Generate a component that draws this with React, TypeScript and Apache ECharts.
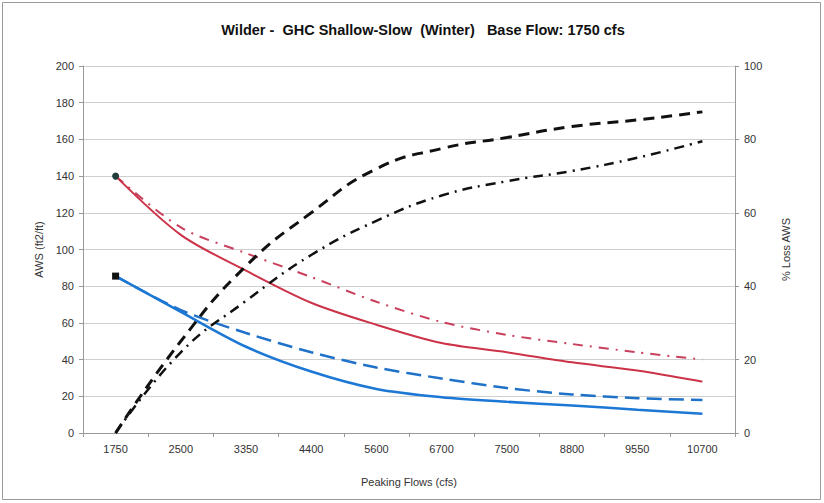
import React, { useEffect, useRef } from "react";
import * as echarts from "echarts";

const categories = ["1750", "2500", "3350", "4400", "5600", "6700", "7500", "8800", "9550", "10700"];
const redSolid = [140, 108, 88.5, 71, 59, 49, 44, 38.5, 34, 28];
const redDashDot = [140, 112, 98, 85, 71.5, 60.5, 53.5, 48.5, 44, 40];
const blueSolid = [85.5, 66, 47, 33.5, 24, 19.5, 17, 15, 12.7, 10.5];
const blueDashed = [85.5, 67, 54.5, 44, 35.7, 29.7, 24.5, 21, 19, 18];
const blackDashedPct = [0, 25, 45.5, 60, 72, 77.5, 80.5, 83.5, 85.3, 87.5];
const blackDashDotPct = [0, 22, 36, 48.5, 57.8, 64.7, 68.6, 71.4, 75, 79.5];

const FONT = "'Liberation Sans Narrow', 'Arial Narrow', 'Liberation Sans', Arial, sans-serif";

export default function App() {
  const ref = useRef<HTMLDivElement>(null);
  useEffect(() => {
    if (!ref.current) return;
    const chart = echarts.init(ref.current, null, { renderer: "svg" });
    const withFirstMarker = (arr: number[], symbol: string, color: string) =>
      arr.map((v, i) =>
        i === 0
          ? { value: v, symbol, symbolSize: 7, itemStyle: { color } }
          : { value: v, symbol: "none" }
      );
    chart.setOption({
      animation: false,
      backgroundColor: "#ffffff",
      title: {
        text: "Wilder -  GHC Shallow-Slow  (Winter)   Base Flow: 1750 cfs",
        left: 418,
        textAlign: "center",
        top: 17,
        textStyle: { fontFamily: FONT, fontSize: 14.5, fontWeight: "bold", color: "#111" },
      },
      grid: { left: 83, right: 89, top: 66, bottom: 70, containLabel: false },
      xAxis: {
        type: "category",
        data: categories,
        boundaryGap: true,
        name: "Peaking Flows (cfs)",
        nameLocation: "middle",
        nameGap: 43,
        nameTextStyle: { fontFamily: FONT, fontSize: 11, color: "#333" },
        axisLine: { lineStyle: { color: "#999" } },
        axisTick: { show: true, length: 4, lineStyle: { color: "#999" } },
        axisLabel: { fontFamily: FONT, fontSize: 11, color: "#333", margin: 10 },
      },
      yAxis: [
        {
          type: "value",
          min: 0,
          max: 200,
          interval: 20,
          name: "AWS (ft2/ft)",
          nameLocation: "middle",
          nameGap: 38,
          nameRotate: 90,
          nameTextStyle: { fontFamily: FONT, fontSize: 11, color: "#333" },
          axisLine: { show: true, lineStyle: { color: "#999" } },
          axisTick: { show: true, length: 4, lineStyle: { color: "#999" } },
          axisLabel: { fontFamily: FONT, fontSize: 11, color: "#333", margin: 9 },
          splitLine: { show: true, lineStyle: { color: "#cfcfcf", width: 1 } },
        },
        {
          type: "value",
          min: 0,
          max: 100,
          interval: 20,
          position: "right",
          name: "% Loss AWS",
          nameLocation: "middle",
          nameGap: 45,
          nameRotate: 90,
          nameTextStyle: { fontFamily: FONT, fontSize: 11, color: "#333" },
          axisLine: { show: true, lineStyle: { color: "#999" } },
          axisTick: { show: true, length: 4, lineStyle: { color: "#999" } },
          axisLabel: { fontFamily: FONT, fontSize: 11, color: "#333", margin: 9 },
          splitLine: { show: false },
        },
      ],
      series: [
        {
          name: "Red dash-dot",
          type: "line",
          yAxisIndex: 0,
          data: redDashDot,
          smooth: 0.3,
          symbol: "none",
          lineStyle: { color: "#c8405c", width: 2, type: [10, 7, 2, 7] },
        },
        {
          name: "Red solid",
          type: "line",
          yAxisIndex: 0,
          data: withFirstMarker(redSolid, "circle", "#1f3d3a"),
          smooth: 0.3,
          showSymbol: true,
          lineStyle: { color: "#cc3348", width: 2 },
          itemStyle: { color: "#cc3348" },
        },
        {
          name: "Blue dashed",
          type: "line",
          yAxisIndex: 0,
          data: blueDashed,
          smooth: 0.3,
          symbol: "none",
          lineStyle: { color: "#1f72c8", width: 2.5, type: [15, 7] },
        },
        {
          name: "Blue solid",
          type: "line",
          yAxisIndex: 0,
          data: withFirstMarker(blueSolid, "rect", "#111111"),
          smooth: 0.3,
          showSymbol: true,
          lineStyle: { color: "#1c78d4", width: 2.5 },
          itemStyle: { color: "#1c78d4" },
        },
        {
          name: "Black dash-dot",
          type: "line",
          yAxisIndex: 1,
          data: blackDashDotPct,
          smooth: 0.45,
          symbol: "none",
          lineStyle: { color: "#111111", width: 2.5, type: [10, 6, 2, 6] },
        },
        {
          name: "Black dashed",
          type: "line",
          yAxisIndex: 1,
          data: blackDashedPct,
          smooth: 0.5,
          symbol: "none",
          lineStyle: { color: "#111111", width: 3, type: [11, 7] },
        },
      ],
      graphic: [
        {
          type: "rect",
          shape: { x: 2.5, y: 2.5, width: 818, height: 497 },
          style: { fill: "none", stroke: "#9a9a9a", lineWidth: 1 },
          silent: true,
        },
      ],
    });
    return () => chart.dispose();
  }, []);
  return (
    <div
      ref={ref}
      style={{ position: "absolute", left: 0, top: 0, width: 824, height: 503 }}
    />
  );
}
